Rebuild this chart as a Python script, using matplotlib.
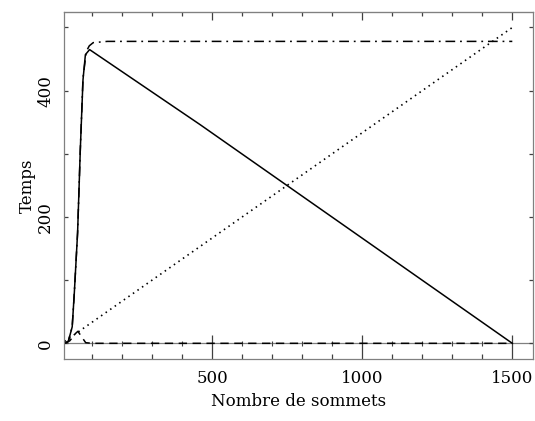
"""Execution time against number of vertices (R-style base plot)."""

import matplotlib
matplotlib.use("Agg")
import matplotlib.pyplot as plt

plt.rcParams['font.family'] = ['DejaVu Serif']
plt.rcParams['lines.scale_dashes'] = False

# series values
x_solid = [8, 20, 33, 40, 51, 60, 69, 77, 91, 460, 1500]
y_solid = [0, 3, 26, 79, 175, 306, 417, 457, 465, 346, 0]

x_dashdot = [8, 20, 33, 40, 51, 60, 69, 80, 90, 103, 150, 1500]
y_dashdot = [0, 3, 26, 79, 175, 306, 420, 462, 471, 476, 478, 478]

x_dotted = [8, 1500]
y_dotted = [3, 500]

x_dashed = [8, 25, 45, 52, 65, 78, 100, 1500]
y_dashed = [0, 4, 16, 19, 10, 1, 0, 0]

x_major = [500, 1000, 1500]
x_minor = [100, 200, 300, 400, 600, 700, 800, 900, 1100, 1200, 1300, 1400]
y_major = [0, 200, 400]
y_minor = [100, 300, 500]

frame_col = '#808080'

fig = plt.figure(figsize=(5.35, 4.21), dpi=100)
ax = fig.add_axes([64 / 535, 1 - 359.3 / 421, (533 - 64) / 535, (359.3 - 11.7) / 421])

# zero line with small crossing marks
ax.axhline(0, color=frame_col, lw=0.9, zorder=1)
ax.vlines(x_minor, -4, 3, color='#404040', lw=0.8, zorder=1)

ax.plot(x_solid, y_solid, color='black', lw=1.1, solid_joinstyle='round')
ax.plot(x_dashdot, y_dashdot, color='black', lw=1.1, dashes=(7, 3.5, 1.3, 3.5))
ax.plot(x_dotted, y_dotted, color='black', lw=1.2, dashes=(1.1, 2.9))
ax.plot(x_dashed, y_dashed, color='black', lw=1.1, dashes=(6, 4))

ax.set_xlim(5.7, 1569)
ax.set_ylim(-25.3, 525)

for s in ax.spines.values():
    s.set_color(frame_col)
    s.set_linewidth(0.9)

ax.set_xticks(x_major)
ax.set_xticks(x_minor, minor=True)
ax.set_xticklabels([str(v) for v in x_major])
ax.set_yticks(y_major)
ax.set_yticks(y_minor, minor=True)
ax.set_yticklabels([str(v) for v in y_major], rotation=90, va='center')

ax.tick_params(axis='x', which='major', direction='in', length=17.5, width=0.9,
               color='#404040', labelsize=12, pad=8)
ax.tick_params(axis='x', which='minor', direction='in', length=3.6, width=0.9,
               color='#404040')
ax.tick_params(axis='y', which='both', direction='in', length=3, width=0.9,
               color='#404040', labelsize=12, pad=7, right=True)

top = ax.secondary_xaxis('top')
top.set_xticks(x_major)
top.set_xticks(x_minor, minor=True)
top.set_xticklabels([])
top.spines['top'].set_color(frame_col)
top.tick_params(axis='x', which='major', direction='in', length=6, width=0.9,
                color='#404040')
top.tick_params(axis='x', which='minor', direction='in', length=3, width=0.9,
                color='#404040')

ax.set_xlabel('Nombre de sommets', fontsize=12, labelpad=4)
ax.set_ylabel('Temps', fontsize=12, labelpad=1)

fig.savefig('out.png', dpi=100)
plt.close(fig)
